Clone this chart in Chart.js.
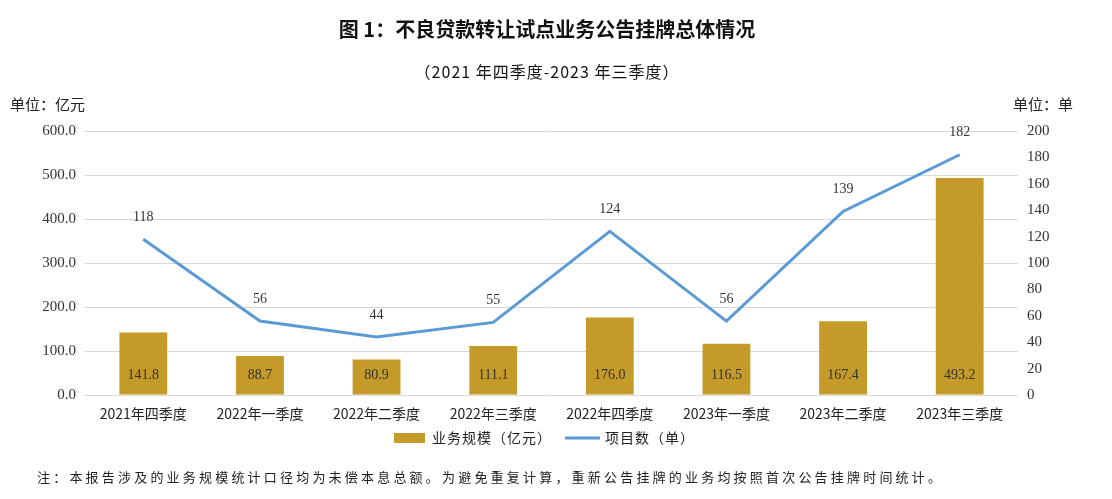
<!DOCTYPE html>
<html>
<head>
<meta charset="utf-8">
<script src="https://cdn.jsdelivr.net/npm/chart.js@4/dist/chart.umd.min.js"></script>
<style>
  html, body { margin: 0; padding: 0; background: #fff; }
  #wrap { width: 1112px; height: 499px; position: relative; }
</style>
</head>
<body>
<div id="wrap"><canvas id="chart"></canvas></div>
<script>
// data
const quarters = ['2021年四季度', '2022年一季度', '2022年二季度', '2022年三季度', '2022年四季度', '2023年一季度', '2023年二季度', '2023年三季度'];
const scaleValues = [141.8, 88.7, 80.9, 111.1, 176.0, 116.5, 167.4, 493.2];
const projectCounts = [118, 56, 44, 55, 124, 56, 139, 182];

const GOLD = '#C49A28';
const BLUE = '#5B9BD5';
const CJK = '"Noto Sans CJK SC", sans-serif';
const NUM = '"Liberation Serif", "DejaVu Serif", serif';

// titles, units, legend and note drawn around the plot
const decorations = {
    id: 'decorations',
    afterDraw(chart) {
        const ctx = chart.ctx;
        ctx.save();
        ctx.fillStyle = '#111';
        ctx.textBaseline = 'middle';
        ctx.textAlign = 'center';
        ctx.font = 'bold 20px ' + CJK;
        ctx.fillText('图 1：不良贷款转让试点业务公告挂牌总体情况', 547, 29);
        ctx.font = '16px ' + CJK;
        ctx.letterSpacing = '1px';
        ctx.fillText('（2021 年四季度-2023 年三季度）', 547, 72);
        ctx.letterSpacing = '0px';

        ctx.font = '15px ' + CJK;
        ctx.textAlign = 'left';
        ctx.fillStyle = '#222';
        ctx.fillText('单位：亿元', 10, 104);
        ctx.fillText('单位：单', 1013, 104);

        // legend
        ctx.fillStyle = GOLD;
        ctx.fillRect(394, 433, 31, 10);
        ctx.fillStyle = '#222';
        ctx.font = '14px ' + CJK;
        ctx.letterSpacing = '1px';
        ctx.fillText('业务规模（亿元）', 432, 438);
        ctx.strokeStyle = BLUE;
        ctx.lineWidth = 3;
        ctx.beginPath();
        ctx.moveTo(565, 438);
        ctx.lineTo(600, 438);
        ctx.stroke();
        ctx.fillText('项目数（单）', 605, 438);

        // note
        ctx.font = '13px ' + CJK;
        ctx.letterSpacing = '3.2px';
        ctx.fillText('注：本报告涉及的业务规模统计口径均为未偿本息总额。为避免重复计算，重新公告挂牌的业务均按照首次公告挂牌时间统计。', 37, 477);
        ctx.restore();
    }
};

// value labels: bars near the base, line above points
const valueLabels = {
    id: 'valueLabels',
    afterDatasetsDraw(chart) {
        const ctx = chart.ctx;
        ctx.save();
        ctx.textAlign = 'center';
        ctx.textBaseline = 'middle';
        ctx.fillStyle = '#333';
        ctx.font = '14px ' + NUM;
        const y0 = chart.scales.y.getPixelForValue(0);
        chart.getDatasetMeta(1).data.forEach((bar, i) => {
            ctx.fillText(scaleValues[i].toFixed(1), bar.x, y0 - 20);
        });
        chart.getDatasetMeta(0).data.forEach((pt, i) => {
            ctx.fillText(String(projectCounts[i]), pt.x, pt.y - 22);
        });
        ctx.restore();
    }
};

new Chart(document.getElementById('chart'), {
    data: {
        labels: quarters,
        datasets: [
            {
                type: 'line',
                label: '项目数（单）',
                data: projectCounts,
                yAxisID: 'y2',
                borderColor: BLUE,
                borderWidth: 3,
                pointRadius: 0,
                tension: 0,
                order: 0
            },
            {
                type: 'bar',
                label: '业务规模（亿元）',
                data: scaleValues,
                yAxisID: 'y',
                backgroundColor: GOLD,
                barPercentage: 0.41,
                categoryPercentage: 1,
                order: 1
            }
        ]
    },
    options: {
        responsive: true,
        maintainAspectRatio: false,
        animation: false,
        layout: { padding: { top: 131, left: 0, right: 0, bottom: 0 } },
        plugins: {
            legend: { display: false },
            tooltip: { enabled: false }
        },
        scales: {
            x: {
                grid: { display: false },
                border: { display: false },
                ticks: { color: '#222', font: { family: CJK, size: 14 }, padding: 2, maxRotation: 0 },
                afterFit: s => { s.height = 104; }
            },
            y: {
                position: 'left',
                min: 0, max: 600,
                ticks: { stepSize: 100, color: '#333', font: { family: NUM, size: 15 }, padding: 9, callback: v => v.toFixed(1) },
                grid: { color: '#d9d9d9', drawTicks: false },
                border: { display: false },
                afterFit: s => { s.width = 85; }
            },
            y2: {
                position: 'right',
                min: 0, max: 200,
                ticks: { stepSize: 20, color: '#333', font: { family: NUM, size: 15 }, padding: 9 },
                grid: { display: false, drawTicks: false },
                border: { display: false },
                afterFit: s => { s.width = 94; }
            }
        }
    },
    plugins: [decorations, valueLabels]
});
</script>
</body>
</html>
